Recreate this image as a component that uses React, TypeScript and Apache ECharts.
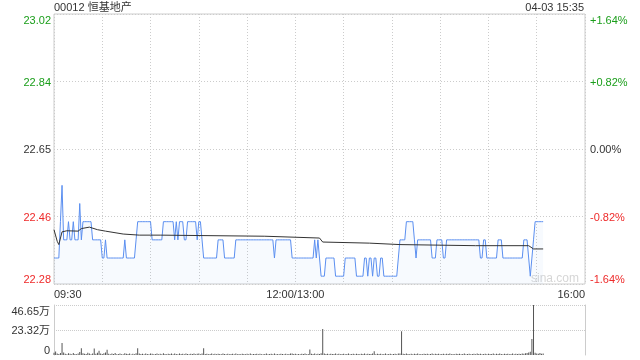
import React, { useEffect, useRef } from 'react';
import * as echarts from 'echarts';

// ---- data ----
const prevClose = 22.65;
const pctRange = 1.64;
const pctStep = 0.82;
const priceTickLabels = ['22.28', '22.46', '22.65', '22.84', '23.02'];
const pctTickLabels = ['-1.64%', '-0.82%', '0.00%', '+0.82%', '+1.64%'];
const timeLabelMinutes = [0, 150, 330];
const timeLabelTexts = ['09:30', '12:00/13:00', '16:00'];

// per-minute price, minute 0 = 09:30 (150 = 12:00/13:00)
const prices = [
  22.35, 22.35, 22.35, 22.35, 22.45, 22.55, 22.40, 22.40, 22.40, 22.45,
  22.40, 22.40, 22.45, 22.40, 22.40, 22.40, 22.50, 22.40, 22.45, 22.45,
  22.45, 22.45, 22.45, 22.45, 22.40, 22.40, 22.40, 22.40, 22.40, 22.40,
  22.35, 22.35, 22.40, 22.35, 22.35, 22.35, 22.35, 22.35, 22.35, 22.35,
  22.35, 22.35, 22.35, 22.35, 22.40, 22.35, 22.35, 22.35, 22.35, 22.35,
  22.35, 22.40, 22.45, 22.45, 22.45, 22.45, 22.45, 22.45, 22.45, 22.45,
  22.45, 22.40, 22.40, 22.40, 22.40, 22.40, 22.40, 22.40, 22.45, 22.45,
  22.45, 22.45, 22.45, 22.45, 22.45, 22.40, 22.45, 22.40, 22.45, 22.45,
  22.45, 22.40, 22.40, 22.45, 22.45, 22.45, 22.45, 22.45, 22.45, 22.40,
  22.45, 22.45, 22.40, 22.35, 22.35, 22.35, 22.35, 22.35, 22.35, 22.35,
  22.35, 22.35, 22.40, 22.40, 22.40, 22.40, 22.35, 22.35, 22.35, 22.35,
  22.35, 22.35, 22.35, 22.40, 22.40, 22.40, 22.40, 22.40, 22.40, 22.40,
  22.40, 22.40, 22.40, 22.40, 22.40, 22.40, 22.40, 22.40, 22.40, 22.40,
  22.40, 22.40, 22.40, 22.40, 22.40, 22.40, 22.40, 22.35, 22.40, 22.40,
  22.40, 22.40, 22.40, 22.40, 22.40, 22.40, 22.40, 22.40, 22.35, 22.35,
  22.35, 22.35, 22.35, 22.35, 22.35, 22.35, 22.35, 22.35, 22.35, 22.35,
  22.35, 22.35, 22.40, 22.35, 22.40, 22.35, 22.30, 22.30, 22.30, 22.35,
  22.35, 22.35, 22.35, 22.35, 22.35, 22.30, 22.30, 22.30, 22.30, 22.30,
  22.30, 22.35, 22.35, 22.35, 22.35, 22.35, 22.35, 22.35, 22.30, 22.30,
  22.30, 22.30, 22.30, 22.35, 22.35, 22.30, 22.35, 22.35, 22.30, 22.35,
  22.35, 22.30, 22.30, 22.35, 22.35, 22.30, 22.30, 22.30, 22.30, 22.30,
  22.30, 22.30, 22.30, 22.30, 22.35, 22.40, 22.40, 22.40, 22.40, 22.45,
  22.45, 22.45, 22.45, 22.45, 22.40, 22.35, 22.40, 22.40, 22.40, 22.40,
  22.40, 22.40, 22.40, 22.40, 22.40, 22.35, 22.35, 22.35, 22.40, 22.40,
  22.40, 22.40, 22.35, 22.35, 22.40, 22.40, 22.40, 22.40, 22.40, 22.40,
  22.40, 22.40, 22.40, 22.40, 22.40, 22.40, 22.40, 22.40, 22.40, 22.40,
  22.40, 22.40, 22.40, 22.40, 22.40, 22.35, 22.35, 22.40, 22.40, 22.35,
  22.35, 22.35, 22.35, 22.35, 22.35, 22.35, 22.40, 22.40, 22.40, 22.35,
  22.35, 22.35, 22.35, 22.35, 22.35, 22.35, 22.35, 22.35, 22.35, 22.35,
  22.35, 22.35, 22.40, 22.40, 22.40, 22.35, 22.30, 22.35, 22.40, 22.45,
  22.45, 22.45, 22.45, 22.45, 22.45,
];

// average price line (minute, price)
const avgMinutes = [0, 2, 3, 5, 8, 15, 17, 22, 27, 32, 43, 53, 66, 131, 165, 167, 196, 215, 262, 295, 298, 304];
const avgPrices = [22.428, 22.396, 22.387, 22.422, 22.425, 22.424, 22.431, 22.435, 22.428, 22.424, 22.416, 22.413, 22.413, 22.410, 22.405, 22.394, 22.391, 22.387, 22.384, 22.384, 22.375, 22.375];

// per-minute volume, 万股
const volumes = [
  2.1, 3.2, 1.5, 0.9, 1.8, 11.3, 2.4, 1.2, 0.8, 1.6,
  1.1, 0.7, 1.9, 1.0, 0.6, 1.4, 2.8, 6.3, 1.7, 1.2,
  0.9, 2.2, 1.3, 0.8, 1.5, 6.0, 1.1, 2.0, 4.0, 1.3,
  0.9, 1.6, 2.3, 4.8, 1.2, 0.7, 1.4, 0.9, 1.8, 0.6,
  1.0, 1.5, 0.8, 0.6, 1.7, 1.1, 0.9, 1.3, 0.5, 1.2,
  0.8, 1.6, 6.3, 1.4, 0.9, 1.1, 0.7, 1.5, 1.0, 0.8,
  1.3, 1.2, 0.6, 0.9, 1.4, 0.7, 1.1, 0.8, 1.6, 1.0,
  0.7, 1.2, 0.9, 1.4, 0.6, 1.3, 1.0, 0.8, 1.5, 0.9,
  1.1, 0.7, 1.3, 1.0, 0.6, 1.2, 0.9, 1.4, 0.8, 1.1,
  1.3, 0.7, 1.5, 6.3, 0.9, 1.2, 0.6, 1.0, 1.4, 0.8,
  1.1, 0.7, 1.2, 0.9, 0.6, 1.3, 1.0, 0.8, 1.2, 0.6,
  0.9, 1.1, 0.7, 1.3, 0.8, 1.0, 0.6, 1.2, 0.9, 0.7,
  1.1, 0.8, 1.3, 0.6, 1.0, 0.9, 1.2, 0.7, 1.1, 0.8,
  0.6, 1.0, 1.3, 0.8, 0.9, 1.1, 0.7, 1.4, 0.8, 1.0,
  0.6, 1.2, 0.9, 0.7, 1.1, 0.8, 1.0, 1.3, 1.5, 0.9,
  1.2, 0.8, 1.0, 0.7, 1.1, 0.9, 1.3, 0.6, 1.0, 5.2,
  1.1, 0.9, 1.4, 0.8, 1.2, 1.0, 1.6, 24.2, 1.3, 0.9,
  1.1, 0.7, 1.2, 0.9, 1.0, 1.4, 0.8, 1.1, 0.6, 1.0,
  1.2, 0.8, 0.9, 1.3, 0.7, 1.0, 1.1, 0.8, 1.2, 0.9,
  0.7, 1.1, 1.0, 1.3, 0.8, 1.2, 0.9, 1.0, 1.4, 3.4,
  0.8, 1.1, 0.9, 1.2, 0.7, 1.0, 1.3, 0.8, 0.9, 1.1,
  0.7, 1.0, 1.2, 0.8, 1.3, 1.5, 22.2, 1.1, 0.9, 1.4,
  1.0, 0.8, 1.2, 0.7, 1.1, 0.9, 1.3, 0.8, 1.0, 0.6,
  1.1, 0.9, 1.2, 0.7, 1.0, 1.3, 0.8, 1.1, 0.9, 1.2,
  0.7, 1.0, 1.2, 0.8, 1.1, 0.9, 1.3, 0.7, 1.0, 0.8,
  1.2, 0.9, 1.1, 0.7, 1.0, 1.3, 0.8, 0.9, 1.2, 0.7,
  1.0, 1.1, 0.8, 1.3, 0.9, 1.2, 0.7, 1.0, 1.1, 0.8,
  1.2, 0.9, 1.0, 1.4, 0.8, 1.1, 0.9, 1.3, 1.0, 0.8,
  1.1, 0.9, 1.2, 0.7, 1.0, 1.3, 0.8, 1.1, 0.9, 1.2,
  1.0, 1.4, 1.1, 1.6, 1.9, 2.4, 3.1, 15.0, 46.65, 2.2,
  1.5, 1.2, 1.8, 1.1, 1.4,
];
const volMax = 46.65;
const volTickLabels = ['0', '23.32万', '46.65万'];

const GREEN = '#1a9e1a';
const RED = '#ee2a2a';
const TEXT = '#333';
const BORDER = '#cccccc';
const FONT = '"Liberation Sans", Arial, "Noto Sans CJK SC", sans-serif';

const toPct = (p: number) => (p / prevClose - 1) * 100;
const pctIndex = (v: number) => Math.round((v + pctRange) / pctStep);
const pctColor = (v: number) => (v > 1e-6 ? GREEN : v < -1e-6 ? RED : TEXT);

export default function App() {
  const ref = useRef<HTMLDivElement>(null);
  useEffect(() => {
    if (!ref.current) return;
    const chart = echarts.init(ref.current, undefined, { renderer: 'svg' });
    const option: any = {
      animation: false,
      textStyle: { fontFamily: FONT },
      title: [
        { text: '00012 恒基地产', left: 54, top: 1, padding: 0, textStyle: { fontSize: 11, fontWeight: 'normal', color: TEXT, fontFamily: FONT } },
        { text: '04-03 15:35', right: 56, top: 1, padding: 0, textStyle: { fontSize: 11, fontWeight: 'normal', color: TEXT, fontFamily: FONT } },
      ],
      graphic: [
        { type: 'text', left: 531, top: 272, silent: true, style: { text: 'sina.com', fill: '#d6d6d6', font: '12px ' + FONT } },
      ],
      grid: [
        { left: 54, top: 14, width: 531, height: 270, show: true, borderColor: BORDER, borderWidth: 1, backgroundColor: 'transparent' },
        { left: 54, top: 305, width: 531, height: 50, show: false },
      ],
      xAxis: [
        {
          type: 'value', gridIndex: 0, min: 0, max: 330, interval: 30,
          axisLine: { show: false }, axisTick: { show: false },
          splitLine: { show: true, lineStyle: { color: BORDER, type: [1, 2], width: 1 } },
          axisLabel: {
            show: true, margin: 4, fontSize: 11, color: TEXT, fontFamily: FONT,
            alignMinLabel: 'left', alignMaxLabel: 'right',
            formatter: (v: number) => {
              const k = timeLabelMinutes.indexOf(Math.round(v));
              return k >= 0 ? timeLabelTexts[k] : '';
            },
          },
        },
        {
          type: 'value', gridIndex: 1, min: 0, max: 330, interval: 30,
          axisLine: { show: false }, axisTick: { show: false }, axisLabel: { show: false }, splitLine: { show: false },
        },
      ],
      yAxis: [
        {
          type: 'value', gridIndex: 0, min: -pctRange, max: pctRange, interval: pctStep,
          axisLine: { show: false }, axisTick: { show: false },
          splitLine: { show: true, lineStyle: { color: BORDER, type: [1, 2], width: 1 } },
          axisLabel: {
            margin: 3, fontSize: 11, fontFamily: FONT,
            verticalAlignMinLabel: 'bottom', verticalAlignMaxLabel: 'top',
            formatter: (v: number) => priceTickLabels[pctIndex(v)] ?? '',
            color: (v: any) => pctColor(Number(v)),
          },
        },
        {
          type: 'value', gridIndex: 0, position: 'right', min: -pctRange, max: pctRange, interval: pctStep,
          axisLine: { show: false }, axisTick: { show: false }, splitLine: { show: false },
          axisLabel: {
            margin: 5, fontSize: 11, fontFamily: FONT,
            verticalAlignMinLabel: 'bottom', verticalAlignMaxLabel: 'top',
            formatter: (v: number) => pctTickLabels[pctIndex(v)] ?? '',
            color: (v: any) => pctColor(Number(v)),
          },
        },
        {
          type: 'value', gridIndex: 1, min: 0, max: volMax, interval: volMax / 2,
          axisLine: { show: true, lineStyle: { color: BORDER, width: 1 } }, axisTick: { show: false },
          splitLine: { show: true, showMinLine: false, lineStyle: { color: BORDER, type: [1, 1], width: 1 } },
          axisLabel: {
            margin: 4, fontSize: 11, color: TEXT, fontFamily: FONT,
            verticalAlignMinLabel: 'bottom', verticalAlignMaxLabel: 'top',
            formatter: (v: number) => volTickLabels[Math.round(v / (volMax / 2))] ?? '',
          },
        },
        {
          type: 'value', gridIndex: 1, position: 'right', min: 0, max: volMax, interval: volMax / 2,
          axisLine: { show: true, lineStyle: { color: BORDER, width: 1 } }, axisTick: { show: false },
          axisLabel: { show: false }, splitLine: { show: false },
        },
      ],
      series: [
        {
          type: 'line', xAxisIndex: 0, yAxisIndex: 0,
          data: prices.map((p, i) => [i, toPct(p)]),
          showSymbol: false, symbol: 'none',
          lineStyle: { color: '#5b8ff0', width: 1 },
          areaStyle: { origin: 'start', color: 'rgba(91,143,240,0.07)' },
          z: 3,
        },
        {
          type: 'line', xAxisIndex: 0, yAxisIndex: 0,
          data: avgMinutes.map((m, k) => [m, toPct(avgPrices[k])]),
          showSymbol: false, symbol: 'none',
          lineStyle: { color: '#333333', width: 1 },
          z: 4,
        },
        {
          type: 'bar', xAxisIndex: 1, yAxisIndex: 2,
          data: volumes.map((v, i) => [i, v]),
          barWidth: 1,
          itemStyle: { color: '#555555' },
        },
      ],
    };
    chart.setOption(option);
    return () => chart.dispose();
  }, []);
  return <div ref={ref} style={{ position: 'fixed', left: 0, top: 0, width: 640, height: 360 }} />;
}
